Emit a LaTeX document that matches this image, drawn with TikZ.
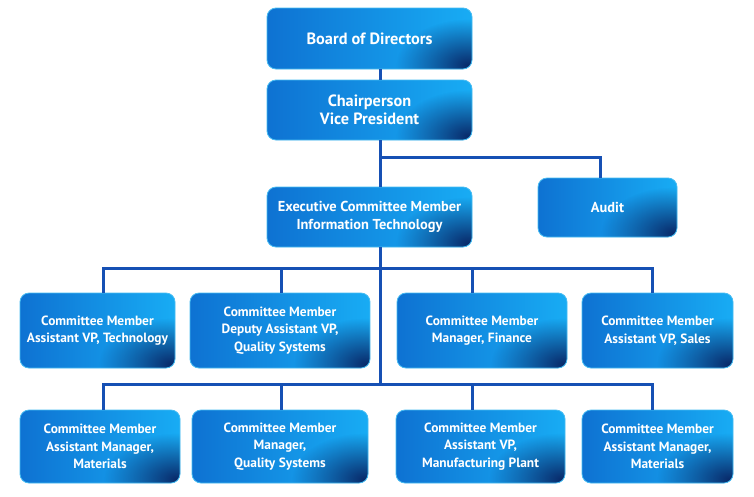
\documentclass[tikz,border=0pt]{standalone}
\usepackage{fontspec}
\setmainfont{PT Sans}
\usetikzlibrary{fadings,backgrounds,calc}
\definecolor{boxL}{RGB}{14,114,210}
\definecolor{boxR}{RGB}{24,172,244}
\definecolor{navy}{RGB}{8,36,100}
\definecolor{lipc}{RGB}{70,188,242}
\definecolor{linec}{RGB}{22,80,180}
\tikzfading[name=cornerfade, inner color=transparent!5, outer color=transparent!100]
\tikzset{
 orgbox/.style={rounded corners=9pt, inner sep=2pt, align=center, text=white,
  draw=lipc, line width=0.8pt,
  font=\bfseries\fontsize{13.4}{17.5}\selectfont,
  path picture={
   \shade[left color=boxL, right color=boxR] (path picture bounding box.south west) rectangle (path picture bounding box.north east);
   \fill[navy, path fading=cornerfade] ([xshift=-4pt,yshift=4pt]path picture bounding box.south east) ellipse [x radius=72pt, y radius=46pt];
  }},
 bigtext/.style={font=\bfseries\fontsize{16.3}{17.5}\selectfont},
 midtext/.style={font=\bfseries\fontsize{14.4}{18}\selectfont},
 conn/.style={draw=linec, line width=3pt},
}
\begin{document}
\begin{tikzpicture}[x=1pt,y=-1pt]
\fill[white] (0,0) rectangle (754,496);
\useasboundingbox (0,0) rectangle (754,496);

\node[orgbox, bigtext, minimum width=205pt, minimum height=61pt] (board) at (369.5,38.5) {Board of Directors};
\node[orgbox, bigtext, minimum width=205pt, minimum height=60pt] (chair) at (369.5,110) {Chairperson\\Vice President};
\node[orgbox, midtext, minimum width=205pt, minimum height=60pt] (exec) at (369.5,217) {Executive Committee Member\\Information Technology};
\node[orgbox, midtext, minimum width=139pt, minimum height=59pt] (audit) at (607.5,207.5) {Audit};

\node[orgbox, minimum width=155pt, minimum height=75pt] (ra) at (97.5,330.5) {Committee Member\\Assistant VP, Technology};
\node[orgbox, minimum width=180pt, minimum height=75pt] (rb) at (280,330.5) {Committee Member\\Deputy Assistant VP,\\Quality Systems};
\node[orgbox, minimum width=170pt, minimum height=75pt] (rc) at (482,330.5) {Committee Member\\Manager, Finance};
\node[orgbox, minimum width=151pt, minimum height=75pt] (rd) at (657.5,330.5) {Committee Member\\Assistant VP, Sales};

\node[orgbox, minimum width=160pt, minimum height=73pt] (sa) at (100,446.5) {Committee Member\\Assistant Manager,\\Materials};
\node[orgbox, minimum width=176pt, minimum height=73pt] (sb) at (280,446.5) {Committee Member\\Manager,\\Quality Systems};
\node[orgbox, minimum width=169pt, minimum height=73pt] (sc) at (480.5,446.5) {Committee Member\\Assistant VP,\\Manufacturing Plant};
\node[orgbox, minimum width=151pt, minimum height=73pt] (sd) at (657.5,446.5) {Committee Member\\Assistant Manager,\\Materials};

\begin{scope}[on background layer]
\foreach \n in {board,chair,exec,audit,ra,rb,rc,rd,sa,sb,sc,sd}
  \fill[lipc, rounded corners=9pt] ([xshift=-1.5pt,yshift=-6pt]\n.south west) rectangle ([xshift=1.5pt,yshift=-10pt]\n.north east);
\end{scope}

\coordinate (t) at (380,0);
\coordinate (ta) at (600,0);
\coordinate (ha) at (0,157);
\coordinate (h1) at (0,268);
\coordinate (h2) at (0,384);
\coordinate (c1) at (103,0);
\coordinate (c2) at (281,0);
\coordinate (c3) at (472,0);
\coordinate (c4) at (652,0);

\draw[conn] (board.south -| t) -- (chair.north -| t);
\draw[conn] (chair.south -| t) -- (exec.north -| t);
\draw[conn] (ha -| t) -- (ha -| ta) -- (audit.north -| ta);
\draw[conn] (exec.south -| t) -- (h2 -| t);
\draw[conn] (ra.north -| c1) -- (h1 -| c1) -- (h1 -| c4) -- (rd.north -| c4);
\draw[conn] (rb.north -| c2) -- (h1 -| c2);
\draw[conn] (rc.north -| c3) -- (h1 -| c3);
\draw[conn] (sa.north -| c1) -- (h2 -| c1) -- (h2 -| c4) -- (sd.north -| c4);
\draw[conn] (sb.north -| c2) -- (h2 -| c2);
\draw[conn] (sc.north -| c3) -- (h2 -| c3);
\end{tikzpicture}
\end{document}
